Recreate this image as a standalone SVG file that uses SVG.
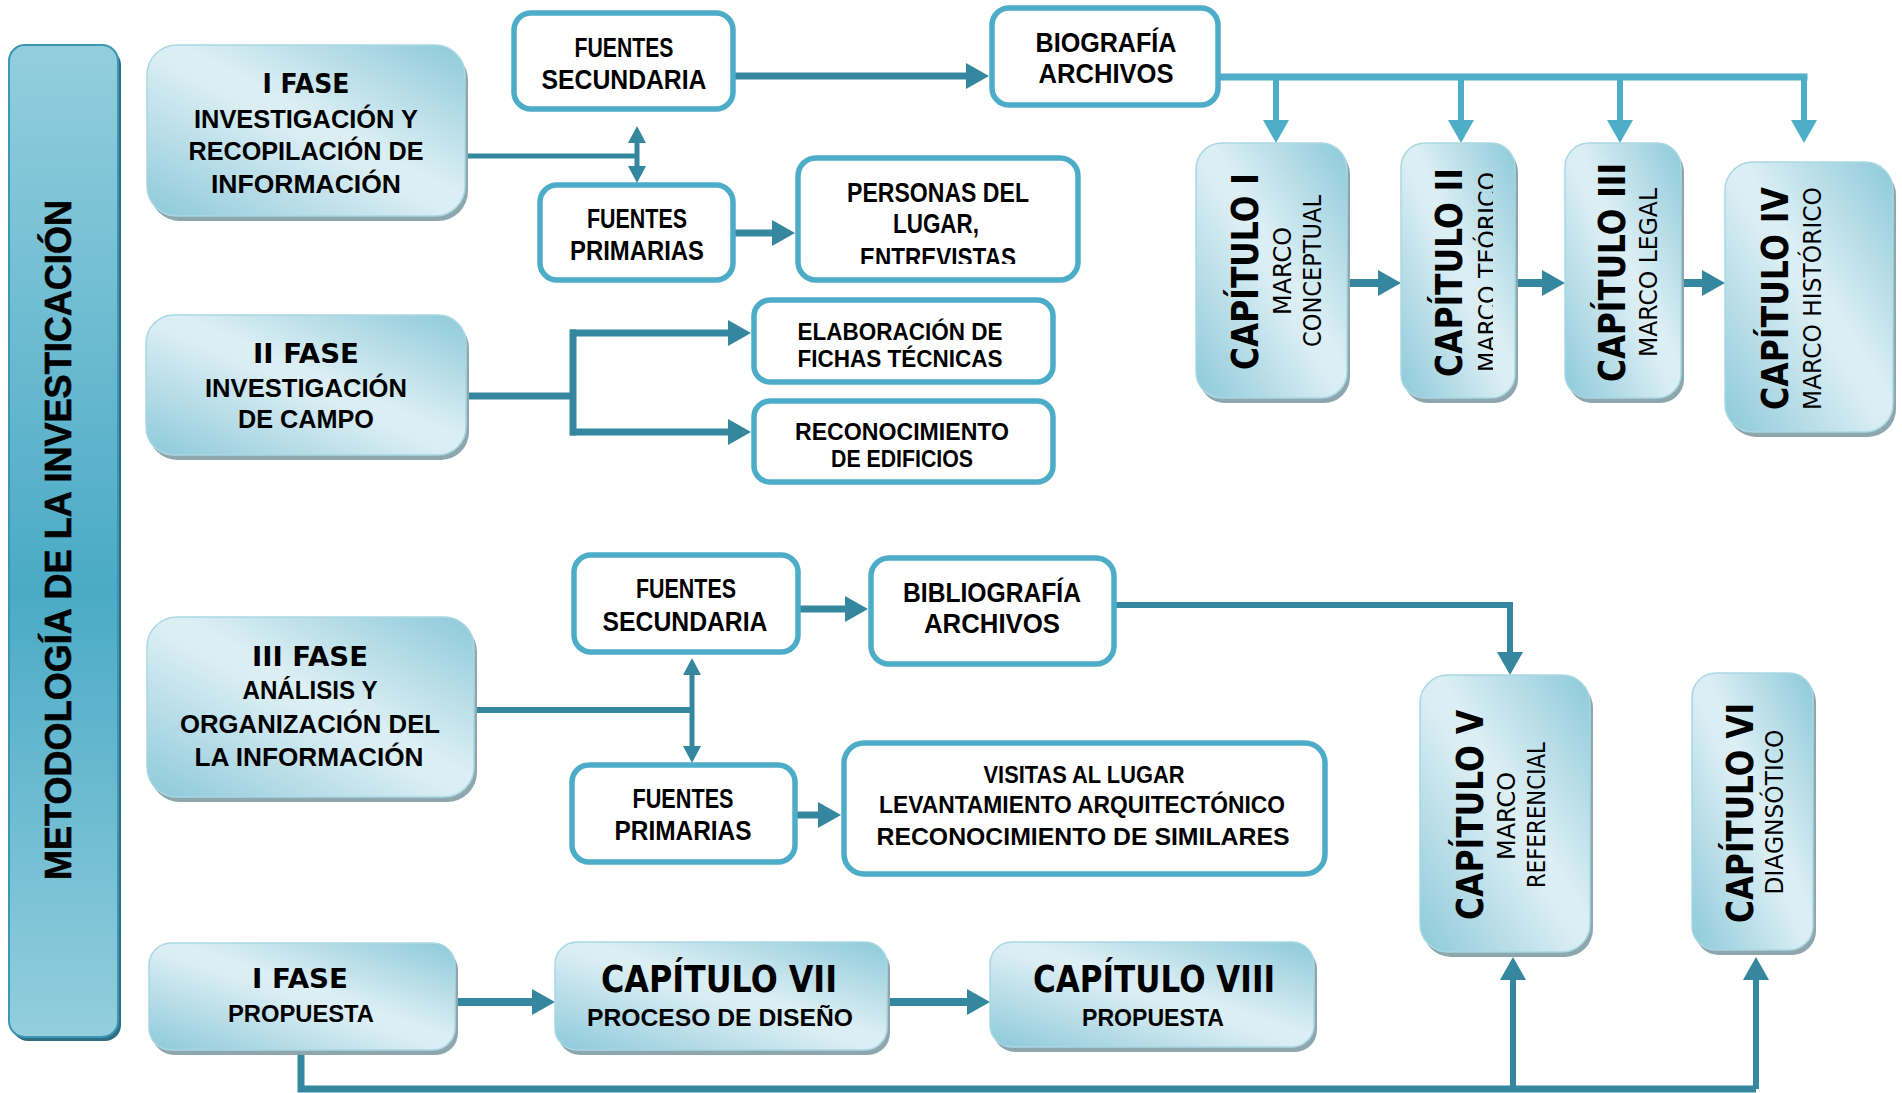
<svg xmlns="http://www.w3.org/2000/svg" width="1902" height="1093" viewBox="0 0 1902 1093">
<defs>
<style>
.wn{fill:#fff;stroke:#4dadc8;stroke-width:5.5}
.gn{fill:url(#g);stroke:#a9d8e4;stroke-width:1.5}
.sh{fill:#8ea6ad}
.t{font-family:"Liberation Sans",Arial,sans-serif;font-weight:bold;fill:#000;text-anchor:middle}
.h{font-family:"DejaVu Sans","Liberation Sans",sans-serif;font-weight:bold;fill:#000;text-anchor:middle}
.s{font-family:"DejaVu Sans","Liberation Sans",sans-serif;font-weight:normal;fill:#000;text-anchor:middle}
.cd{fill:none;stroke:#34879f}
.cl{fill:none;stroke:#4eaec9}
</style>
<linearGradient id="g" x1="0" y1="1" x2="1" y2="0">
<stop offset="0" stop-color="#8dc9da"/>
<stop offset="0.47" stop-color="#d9edf3"/>
<stop offset="0.55" stop-color="#dceff4"/>
<stop offset="1" stop-color="#8dc9da"/>
</linearGradient>
<linearGradient id="gb" x1="0" y1="0" x2="0" y2="1">
<stop offset="0" stop-color="#93cedd"/>
<stop offset="0.55" stop-color="#4aaac6"/>
<stop offset="1" stop-color="#93cedd"/>
</linearGradient>
<marker id="ah" markerUnits="userSpaceOnUse" markerWidth="24" markerHeight="26" refX="0" refY="13" orient="auto"><path d="M0,0 L23,13 L0,26 Z" fill="#34879f"/></marker>
<marker id="ahs" markerUnits="userSpaceOnUse" markerWidth="17" markerHeight="18" refX="0" refY="9" orient="auto-start-reverse"><path d="M0,0 L17,9 L0,18 Z" fill="#34879f"/></marker>
<marker id="ahl" markerUnits="userSpaceOnUse" markerWidth="24" markerHeight="26" refX="0" refY="13" orient="auto"><path d="M0,0 L23,13 L0,26 Z" fill="#4eaec9"/></marker>
<clipPath id="cpP"><rect x="790" y="150" width="300" height="114"/></clipPath>
<clipPath id="cpT"><rect x="1400" y="140" width="93" height="260"/></clipPath>
</defs>

<g id="connectors">
<path class="cd" stroke-width="5" d="M465,156 H637"/>
<path class="cd" stroke-width="5" d="M637,143 V166" marker-start="url(#ahs)" marker-end="url(#ahs)"/>
<path class="cd" stroke-width="7" d="M735,76 H966" marker-end="url(#ah)"/>
<path class="cd" stroke-width="7" d="M735,233 H772" marker-end="url(#ah)"/>
<path class="cd" stroke-width="7" d="M466,396 H573"/>
<path class="cd" stroke-width="7" d="M573,329.5 V435.5"/>
<path class="cd" stroke-width="7" d="M570,333 H728" marker-end="url(#ah)"/>
<path class="cd" stroke-width="7" d="M570,432 H728" marker-end="url(#ah)"/>
<path class="cd" stroke-width="6" d="M474,710 H692"/>
<path class="cd" stroke-width="5" d="M692,675 V746" marker-start="url(#ahs)" marker-end="url(#ahs)"/>
<path class="cd" stroke-width="7" d="M799,609 H845" marker-end="url(#ah)"/>
<path class="cd" stroke-width="7" d="M797,815 H818" marker-end="url(#ah)"/>
<path class="cd" stroke-width="6" d="M1116,605 H1510 V652" marker-end="url(#ah)"/>
<path class="cd" stroke-width="8" d="M1347,283 H1378" marker-end="url(#ah)"/>
<path class="cd" stroke-width="8" d="M1515,283 H1542" marker-end="url(#ah)"/>
<path class="cd" stroke-width="8" d="M1681,283 H1702" marker-end="url(#ah)"/>
<path class="cd" stroke-width="8" d="M455,1002 H532" marker-end="url(#ah)"/>
<path class="cd" stroke-width="8" d="M887,1002 H967" marker-end="url(#ah)"/>
<path class="cd" stroke-width="7" d="M301,1050 V1089 H1756"/>
<path class="cd" stroke-width="6" d="M1513,1089 V980" marker-end="url(#ah)"/>
<path class="cd" stroke-width="6" d="M1756,1089 V980" marker-end="url(#ah)"/>
<path class="cl" stroke-width="7" d="M1220,77 H1807.5"/>
<path class="cl" stroke-width="6" d="M1276,77 V120" marker-end="url(#ahl)"/>
<path class="cl" stroke-width="6" d="M1461,77 V120" marker-end="url(#ahl)"/>
<path class="cl" stroke-width="6" d="M1620,77 V120" marker-end="url(#ahl)"/>
<path class="cl" stroke-width="6" d="M1804,77 V120" marker-end="url(#ahl)"/>
</g>

<g id="metodologia">
<rect x="12" y="49" width="109" height="992" rx="16" fill="#2d6f83"/>
<rect x="9" y="45" width="109" height="992" rx="16" fill="url(#gb)" stroke="#3c97b2" stroke-width="2"/>
<text class="t" font-size="37" stroke="#000" stroke-width="0.6" textLength="680" lengthAdjust="spacingAndGlyphs" transform="translate(71,540) rotate(-90)">METODOLOGÍA DE LA INVESTICACIÓN</text>
</g>

<g id="fase1">
<rect class="sh" x="150" y="50" width="318" height="171" rx="30"/>
<rect class="gn" x="147" y="45" width="318" height="171" rx="30"/>
<text class="h" x="306" y="93" font-size="26" textLength="87" lengthAdjust="spacingAndGlyphs">I FASE</text>
<text class="t" x="306" y="128" font-size="25" textLength="224" lengthAdjust="spacingAndGlyphs">INVESTIGACIÓN Y</text>
<text class="t" x="306" y="160" font-size="25" textLength="235" lengthAdjust="spacingAndGlyphs">RECOPILACIÓN DE</text>
<text class="t" x="306" y="193" font-size="25" textLength="190" lengthAdjust="spacingAndGlyphs">INFORMACIÓN</text>
</g>

<g id="fuentes-sec-1">
<rect class="wn" x="514" y="13" width="219" height="96" rx="17"/>
<text class="t" x="624" y="57" font-size="27" textLength="99" lengthAdjust="spacingAndGlyphs">FUENTES</text>
<text class="t" x="624" y="89" font-size="27" textLength="165" lengthAdjust="spacingAndGlyphs">SECUNDARIA</text>
</g>

<g id="biografia">
<rect class="wn" x="992" y="8" width="226" height="97" rx="17"/>
<text class="t" x="1106" y="52" font-size="27" textLength="141" lengthAdjust="spacingAndGlyphs">BIOGRAFÍA</text>
<text class="t" x="1106" y="83" font-size="27" textLength="135" lengthAdjust="spacingAndGlyphs">ARCHIVOS</text>
</g>

<g id="fuentes-prim-1">
<rect class="wn" x="540" y="185" width="193" height="95" rx="17"/>
<text class="t" x="637" y="228" font-size="27" textLength="100" lengthAdjust="spacingAndGlyphs">FUENTES</text>
<text class="t" x="637" y="260" font-size="27" textLength="134" lengthAdjust="spacingAndGlyphs">PRIMARIAS</text>
</g>

<g id="personas">
<rect class="wn" x="798" y="158" width="280" height="122" rx="18"/>
<text class="t" x="938" y="202" font-size="27" textLength="182" lengthAdjust="spacingAndGlyphs">PERSONAS DEL</text>
<text class="t" x="936" y="233" font-size="27" textLength="86" lengthAdjust="spacingAndGlyphs">LUGAR,</text>
<text class="t" x="938" y="267" font-size="27" textLength="156" lengthAdjust="spacingAndGlyphs" clip-path="url(#cpP)">ENTREVISTAS</text>
</g>

<g id="fase2">
<rect class="sh" x="149" y="320" width="320" height="140" rx="28"/>
<rect class="gn" x="146" y="315" width="320" height="140" rx="28"/>
<text class="h" x="306" y="363" font-size="26" textLength="106" lengthAdjust="spacingAndGlyphs">II  FASE</text>
<text class="t" x="306" y="397" font-size="26" textLength="202" lengthAdjust="spacingAndGlyphs">INVESTIGACIÓN</text>
<text class="t" x="306" y="428" font-size="26" textLength="136" lengthAdjust="spacingAndGlyphs">DE CAMPO</text>
</g>

<g id="elaboracion">
<rect class="wn" x="754" y="300" width="299" height="82" rx="16"/>
<text class="t" x="900" y="340" font-size="24" textLength="205" lengthAdjust="spacingAndGlyphs">ELABORACIÓN DE</text>
<text class="t" x="900" y="367" font-size="24" textLength="205" lengthAdjust="spacingAndGlyphs">FICHAS TÉCNICAS</text>
</g>

<g id="reconocimiento">
<rect class="wn" x="754" y="401" width="299" height="81" rx="16"/>
<text class="t" x="902" y="440" font-size="24" textLength="214" lengthAdjust="spacingAndGlyphs">RECONOCIMIENTO</text>
<text class="t" x="902" y="467" font-size="24" textLength="142" lengthAdjust="spacingAndGlyphs">DE EDIFICIOS</text>
</g>

<g id="cap1">
<rect class="sh" x="1199" y="148" width="151" height="255" rx="26"/>
<rect class="gn" x="1196" y="143" width="151" height="255" rx="26"/>
<text class="h" font-size="37" textLength="197" lengthAdjust="spacingAndGlyphs" transform="translate(1258,271.5) rotate(-90)">CAPÍTULO I</text>
<text class="s" font-size="24" textLength="88" lengthAdjust="spacingAndGlyphs" transform="translate(1291,271) rotate(-90)">MARCO</text>
<text class="s" font-size="24" textLength="152" lengthAdjust="spacingAndGlyphs" transform="translate(1321,271) rotate(-90)">CONCEPTUAL</text>
</g>

<g id="cap2">
<rect class="sh" x="1404" y="148" width="114" height="255" rx="24"/>
<rect class="gn" x="1401" y="143" width="114" height="255" rx="24"/>
<text class="h" font-size="37" textLength="209" lengthAdjust="spacingAndGlyphs" transform="translate(1462,272.5) rotate(-90)">CAPÍTULO II</text>
<g clip-path="url(#cpT)"><text class="s" font-size="24" textLength="200" lengthAdjust="spacingAndGlyphs" transform="translate(1496,272) rotate(-90)">MARCO TEÓRICO</text></g>
</g>

<g id="cap3">
<rect class="sh" x="1568" y="148" width="116" height="255" rx="24"/>
<rect class="gn" x="1565" y="143" width="116" height="255" rx="24"/>
<text class="h" font-size="37" textLength="219" lengthAdjust="spacingAndGlyphs" transform="translate(1625,272.5) rotate(-90)">CAPÍTULO III</text>
<text class="s" font-size="24" textLength="169" lengthAdjust="spacingAndGlyphs" transform="translate(1657,272.5) rotate(-90)">MARCO LEGAL</text>
</g>

<g id="cap4">
<rect class="sh" x="1728" y="167" width="168" height="270" rx="28"/>
<rect class="gn" x="1725" y="162" width="168" height="270" rx="28"/>
<text class="h" font-size="37" textLength="223" lengthAdjust="spacingAndGlyphs" transform="translate(1788,298.5) rotate(-90)">CAPÍTULO IV</text>
<text class="s" font-size="24" textLength="223" lengthAdjust="spacingAndGlyphs" transform="translate(1821,298.5) rotate(-90)">MARCO HISTÓRICO</text>
</g>

<g id="fase3">
<rect class="sh" x="150" y="622" width="327" height="180" rx="30"/>
<rect class="gn" x="147" y="617" width="327" height="180" rx="30"/>
<text class="h" x="310" y="666" font-size="26" textLength="116" lengthAdjust="spacingAndGlyphs">III  FASE</text>
<text class="t" x="310" y="699" font-size="26" textLength="135" lengthAdjust="spacingAndGlyphs">ANÁLISIS Y</text>
<text class="t" x="310" y="733" font-size="26" textLength="260" lengthAdjust="spacingAndGlyphs">ORGANIZACIÓN DEL</text>
<text class="t" x="309" y="766" font-size="26" textLength="229" lengthAdjust="spacingAndGlyphs">LA INFORMACIÓN</text>
</g>

<g id="fuentes-sec-3">
<rect class="wn" x="574" y="555" width="224" height="97" rx="17"/>
<text class="t" x="686" y="598" font-size="27" textLength="100" lengthAdjust="spacingAndGlyphs">FUENTES</text>
<text class="t" x="685" y="631" font-size="27" textLength="165" lengthAdjust="spacingAndGlyphs">SECUNDARIA</text>
</g>

<g id="fuentes-prim-3">
<rect class="wn" x="572" y="765" width="223" height="97" rx="17"/>
<text class="t" x="683" y="808" font-size="27" textLength="101" lengthAdjust="spacingAndGlyphs">FUENTES</text>
<text class="t" x="683" y="840" font-size="27" textLength="137" lengthAdjust="spacingAndGlyphs">PRIMARIAS</text>
</g>

<g id="bibliografia">
<rect class="wn" x="871" y="558" width="243" height="106" rx="18"/>
<text class="t" x="992" y="602" font-size="27" textLength="178" lengthAdjust="spacingAndGlyphs">BIBLIOGRAFÍA</text>
<text class="t" x="992" y="633" font-size="27" textLength="136" lengthAdjust="spacingAndGlyphs">ARCHIVOS</text>
</g>

<g id="visitas">
<rect class="wn" x="844" y="743" width="481" height="131" rx="20"/>
<text class="t" x="1084" y="783" font-size="23" textLength="201" lengthAdjust="spacingAndGlyphs">VISITAS AL LUGAR</text>
<text class="t" x="1082" y="813" font-size="23" textLength="406" lengthAdjust="spacingAndGlyphs">LEVANTAMIENTO ARQUITECTÓNICO</text>
<text class="t" x="1083" y="845" font-size="24" textLength="413" lengthAdjust="spacingAndGlyphs">RECONOCIMIENTO DE SIMILARES</text>
</g>

<g id="cap5">
<rect class="sh" x="1423" y="680" width="170" height="277" rx="28"/>
<rect class="gn" x="1420" y="675" width="170" height="277" rx="28"/>
<text class="h" font-size="37" textLength="210" lengthAdjust="spacingAndGlyphs" transform="translate(1483,815) rotate(-90)">CAPÍTULO V</text>
<text class="s" font-size="24" textLength="88" lengthAdjust="spacingAndGlyphs" transform="translate(1515,816) rotate(-90)">MARCO</text>
<text class="s" font-size="24" textLength="146" lengthAdjust="spacingAndGlyphs" transform="translate(1545,815) rotate(-90)">REFERENCIAL</text>
</g>

<g id="cap6">
<rect class="sh" x="1695" y="678" width="121" height="277" rx="24"/>
<rect class="gn" x="1692" y="673" width="121" height="277" rx="24"/>
<text class="h" font-size="37" textLength="220" lengthAdjust="spacingAndGlyphs" transform="translate(1753,813) rotate(-90)">CAPÍTULO VI</text>
<text class="s" font-size="24" textLength="165" lengthAdjust="spacingAndGlyphs" transform="translate(1783,812) rotate(-90)">DIAGNSÓTICO</text>
</g>

<g id="fase-propuesta">
<rect class="sh" x="152" y="948" width="306" height="107" rx="22"/>
<rect class="gn" x="149" y="943" width="306" height="107" rx="22"/>
<text class="h" x="300" y="988" font-size="26" textLength="96" lengthAdjust="spacingAndGlyphs">I FASE</text>
<text class="t" x="301" y="1022" font-size="24" textLength="146" lengthAdjust="spacingAndGlyphs">PROPUESTA</text>
</g>

<g id="cap7">
<rect class="sh" x="558" y="947" width="332" height="108" rx="22"/>
<rect class="gn" x="555" y="942" width="332" height="108" rx="22"/>
<text class="h" x="719" y="992" font-size="37" textLength="236" lengthAdjust="spacingAndGlyphs">CAPÍTULO VII</text>
<text class="t" x="720" y="1026" font-size="24" textLength="266" lengthAdjust="spacingAndGlyphs">PROCESO DE DISEÑO</text>
</g>

<g id="cap8">
<rect class="sh" x="993" y="947" width="324" height="105" rx="22"/>
<rect class="gn" x="990" y="942" width="324" height="105" rx="22"/>
<text class="h" x="1154" y="992" font-size="37" textLength="242" lengthAdjust="spacingAndGlyphs">CAPÍTULO VIII</text>
<text class="t" x="1153" y="1026" font-size="24" textLength="142" lengthAdjust="spacingAndGlyphs">PROPUESTA</text>
</g>
</svg>
